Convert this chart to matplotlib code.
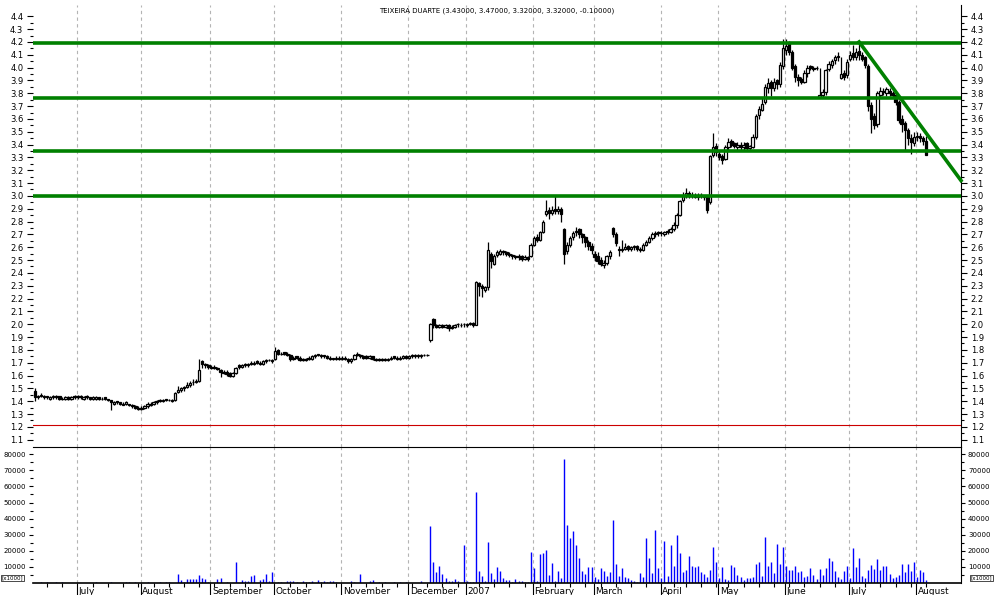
import matplotlib
matplotlib.use('Agg')
import matplotlib.pyplot as plt
import matplotlib.transforms as mtransforms
import numpy as np
import pandas as pd

title = 'TEIXEIRA DUARTE (3.43000, 3.47000, 3.32000, 3.32000, -0.10000)'

# trading days, Lisbon holidays removed
start_date = '2006-06-13'
end_date = '2007-08-06'
holidays = ['2006-12-25', '2006-12-26', '2007-01-01', '2007-04-06', '2007-04-09', '2007-05-01']

# daily OHLC, one line per month
opens = [
    1.48,1.43,1.45,1.44,1.44,1.42,1.43,1.44,1.44,1.42,1.42,1.43,1.42,1.44,
    1.43,1.44,1.42,1.44,1.43,1.42,1.42,1.43,1.42,1.43,1.42,1.41,1.38,1.40,1.39,1.37,1.38,1.38,1.37,1.36,1.34,
    1.34,1.35,1.36,1.37,1.38,1.39,1.41,1.40,1.42,1.41,1.40,1.41,1.47,1.49,1.51,1.51,1.53,1.55,1.55,1.56,1.71,1.69,1.68,
    1.67,1.67,1.66,1.64,1.63,1.63,1.62,1.60,1.62,1.68,1.67,1.69,1.68,1.70,1.69,1.71,1.70,1.69,1.71,1.72,1.71,
    1.73,1.80,1.77,1.78,1.77,1.76,1.73,1.75,1.74,1.73,1.72,1.74,1.73,1.75,1.77,1.76,1.76,1.75,1.74,1.74,1.73,1.74,
    1.73,1.74,1.73,1.71,1.73,1.77,1.76,1.75,1.75,1.74,1.75,1.73,1.72,1.73,1.72,1.72,1.73,1.75,1.74,1.73,1.74,1.75,
    1.74,1.76,1.75,1.76,1.75,1.76,1.76,1.88,2.04,1.99,1.98,1.99,1.98,1.99,1.97,1.98,2.00,1.99,2.00,
    1.99,2.00,2.01,1.99,2.32,2.30,2.27,2.29,2.55,2.47,2.54,2.55,2.57,2.56,2.55,2.54,2.53,2.52,2.53,2.51,2.52,2.53,
    2.62,2.68,2.66,2.72,2.86,2.89,2.87,2.90,2.88,2.90,2.74,2.57,2.62,2.68,2.72,2.74,2.70,2.68,2.64,2.61,
    2.55,2.53,2.50,2.46,2.48,2.53,2.75,2.70,2.59,2.58,2.59,2.61,2.59,2.60,2.61,2.59,2.58,2.62,2.64,2.67,2.70,2.72,
    2.71,2.70,2.73,2.72,2.74,2.77,2.85,2.97,3.00,3.02,3.00,3.01,2.99,3.01,3.00,2.99,2.95,3.32,3.39,
    3.33,3.31,3.29,3.38,3.43,3.41,3.38,3.40,3.38,3.41,3.37,3.38,3.46,3.63,3.67,3.73,3.84,3.89,3.84,3.90,3.87,4.01,
    4.14,4.19,4.12,4.01,3.93,3.91,3.89,3.96,4.01,4.00,4.00,3.77,3.79,3.81,3.99,4.02,4.06,4.08,3.92,3.96,3.94,
    4.07,4.11,4.08,4.13,4.10,4.08,4.01,3.71,3.62,3.56,3.79,3.82,3.80,3.82,3.80,3.79,3.73,3.60,3.57,3.51,3.45,3.41,
    3.46,3.47,3.45,3.43,
]
highs = [
    1.50,1.45,1.46,1.45,1.44,1.44,1.45,1.45,1.44,1.43,1.44,1.44,1.44,1.45,
    1.45,1.45,1.44,1.45,1.43,1.44,1.44,1.43,1.43,1.43,1.42,1.41,1.40,1.40,1.39,1.39,1.40,1.38,1.38,1.37,1.36,
    1.36,1.37,1.39,1.39,1.40,1.41,1.42,1.42,1.42,1.42,1.42,1.47,1.52,1.51,1.52,1.55,1.56,1.57,1.57,1.73,1.72,1.70,1.69,
    1.68,1.68,1.67,1.65,1.64,1.64,1.63,1.63,1.67,1.69,1.69,1.70,1.70,1.71,1.71,1.72,1.71,1.72,1.73,1.73,1.73,
    1.82,1.81,1.78,1.78,1.78,1.77,1.75,1.75,1.75,1.74,1.74,1.75,1.76,1.77,1.77,1.77,1.76,1.76,1.75,1.74,1.75,1.75,
    1.75,1.75,1.74,1.74,1.77,1.78,1.77,1.76,1.76,1.76,1.75,1.74,1.74,1.74,1.74,1.74,1.75,1.75,1.75,1.75,1.76,1.76,
    1.76,1.77,1.77,1.77,1.77,1.77,1.77,2.01,2.05,2.00,2.00,2.00,2.00,2.00,1.99,2.00,2.01,2.01,2.01,
    2.01,2.02,2.02,2.34,2.33,2.31,2.30,2.64,2.56,2.55,2.58,2.59,2.58,2.57,2.56,2.55,2.54,2.55,2.54,2.54,2.53,2.63,
    2.69,2.70,2.73,2.81,2.97,2.91,2.92,3.00,2.92,2.91,2.75,2.64,2.69,2.73,2.76,2.75,2.71,2.69,2.66,2.63,
    2.57,2.56,2.52,2.50,2.54,2.58,2.76,2.72,2.61,2.66,2.63,2.62,2.61,2.62,2.62,2.60,2.63,2.66,2.69,2.72,2.73,2.73,
    2.73,2.73,2.74,2.76,2.80,2.87,2.97,3.03,3.06,3.04,3.03,3.02,3.02,3.02,3.01,3.00,3.32,3.49,3.41,
    3.35,3.33,3.40,3.45,3.44,3.42,3.42,3.42,3.42,3.42,3.40,3.48,3.64,3.70,3.76,3.87,3.92,3.90,3.92,3.91,4.04,4.22,
    4.22,4.21,4.14,4.03,3.95,3.93,3.98,4.02,4.02,4.01,4.01,4.00,3.83,3.99,4.05,4.07,4.10,4.12,4.08,3.98,4.07,
    4.13,4.18,4.15,4.20,4.12,4.09,4.03,3.73,3.65,3.82,3.85,3.84,3.85,3.84,3.82,3.81,3.75,3.63,3.58,3.53,3.48,3.50,
    3.50,3.49,3.47,3.47,
]
lows = [
    1.40,1.42,1.43,1.42,1.42,1.41,1.42,1.42,1.41,1.41,1.41,1.41,1.41,1.42,
    1.42,1.42,1.41,1.42,1.41,1.41,1.41,1.41,1.41,1.41,1.40,1.33,1.37,1.38,1.37,1.37,1.37,1.36,1.35,1.34,1.33,
    1.33,1.34,1.35,1.36,1.37,1.38,1.39,1.39,1.40,1.40,1.39,1.40,1.46,1.47,1.48,1.50,1.51,1.53,1.54,1.55,1.66,1.66,1.65,
    1.65,1.65,1.64,1.59,1.61,1.60,1.59,1.59,1.61,1.65,1.66,1.67,1.67,1.68,1.68,1.69,1.68,1.68,1.70,1.71,1.70,
    1.72,1.76,1.76,1.76,1.75,1.71,1.72,1.73,1.71,1.71,1.71,1.72,1.72,1.74,1.75,1.74,1.74,1.73,1.72,1.72,1.72,1.72,
    1.72,1.72,1.70,1.70,1.72,1.75,1.74,1.73,1.73,1.73,1.72,1.71,1.71,1.71,1.71,1.71,1.72,1.73,1.72,1.72,1.73,1.73,
    1.73,1.74,1.74,1.74,1.74,1.75,1.75,1.86,1.97,1.97,1.97,1.97,1.97,1.95,1.96,1.97,1.98,1.98,1.98,
    1.98,1.99,1.98,1.99,2.22,2.21,2.25,2.27,2.44,2.46,2.52,2.54,2.54,2.53,2.52,2.51,2.51,2.50,2.49,2.50,2.49,2.52,
    2.61,2.64,2.65,2.71,2.84,2.82,2.85,2.86,2.86,2.80,2.47,2.55,2.60,2.66,2.69,2.67,2.63,2.60,2.58,2.55,
    2.49,2.47,2.45,2.44,2.46,2.51,2.68,2.61,2.53,2.56,2.58,2.57,2.57,2.58,2.57,2.56,2.57,2.61,2.63,2.66,2.68,2.69,
    2.69,2.69,2.70,2.71,2.73,2.75,2.84,2.95,2.98,2.98,2.98,2.98,2.97,2.98,2.97,2.87,2.94,3.30,3.31,
    3.28,3.25,3.28,3.36,3.38,3.37,3.36,3.36,3.36,3.35,3.35,3.37,3.44,3.60,3.66,3.72,3.80,3.78,3.82,3.83,3.85,3.99,
    4.10,4.10,3.98,3.89,3.86,3.87,3.88,3.93,3.98,3.97,3.98,3.76,3.77,3.79,3.97,4.00,4.03,4.05,3.91,3.90,3.92,
    4.05,4.06,4.06,4.06,4.05,4.00,3.66,3.49,3.52,3.54,3.77,3.79,3.78,3.78,3.77,3.71,3.57,3.50,3.35,3.40,3.33,3.39,
    3.43,3.42,3.40,3.32,
]
closes = [
    1.43,1.44,1.44,1.43,1.43,1.43,1.44,1.43,1.42,1.42,1.43,1.42,1.43,1.43,
    1.44,1.43,1.43,1.43,1.42,1.43,1.43,1.42,1.42,1.42,1.41,1.39,1.39,1.39,1.38,1.38,1.39,1.37,1.36,1.35,1.35,
    1.35,1.36,1.38,1.38,1.39,1.40,1.40,1.41,1.41,1.41,1.41,1.46,1.49,1.50,1.50,1.53,1.54,1.55,1.56,1.64,1.69,1.68,1.67,
    1.66,1.66,1.65,1.63,1.62,1.61,1.60,1.62,1.66,1.67,1.68,1.68,1.69,1.69,1.70,1.70,1.69,1.71,1.72,1.72,1.72,
    1.79,1.77,1.77,1.77,1.76,1.73,1.74,1.74,1.72,1.72,1.73,1.73,1.75,1.76,1.76,1.75,1.75,1.74,1.73,1.73,1.74,1.73,
    1.74,1.73,1.71,1.73,1.76,1.76,1.75,1.74,1.74,1.75,1.73,1.72,1.73,1.72,1.73,1.73,1.74,1.74,1.73,1.74,1.75,1.74,
    1.75,1.75,1.76,1.75,1.76,1.76,1.76,2.00,1.99,1.98,1.99,1.98,1.99,1.97,1.98,1.99,2.00,1.99,2.00,
    2.00,2.01,1.99,2.33,2.30,2.28,2.29,2.58,2.49,2.53,2.56,2.57,2.56,2.55,2.54,2.53,2.52,2.53,2.51,2.52,2.51,2.62,
    2.67,2.66,2.72,2.80,2.88,2.87,2.89,2.88,2.90,2.86,2.55,2.62,2.67,2.71,2.73,2.70,2.68,2.64,2.61,2.58,
    2.52,2.49,2.47,2.48,2.53,2.56,2.70,2.63,2.58,2.59,2.60,2.59,2.60,2.61,2.59,2.58,2.62,2.64,2.67,2.70,2.71,2.71,
    2.71,2.72,2.72,2.74,2.77,2.85,2.96,3.00,3.02,3.00,3.01,2.99,3.00,3.00,2.99,2.89,3.31,3.38,3.34,
    3.30,3.28,3.38,3.42,3.40,3.39,3.40,3.38,3.40,3.37,3.39,3.46,3.62,3.68,3.72,3.85,3.88,3.84,3.89,3.87,4.02,4.15,
    4.17,4.12,4.00,3.93,3.90,3.89,3.96,4.00,4.00,3.99,4.00,3.79,3.81,3.98,4.03,4.05,4.08,4.09,3.95,3.93,4.04,
    4.10,4.08,4.12,4.10,4.07,4.02,3.70,3.60,3.55,3.80,3.82,3.81,3.83,3.80,3.79,3.73,3.59,3.56,3.51,3.45,3.42,3.46,
    3.47,3.45,3.43,3.32,
]
# volume in thousands of shares
volume_k = [
    0,0,0.6,0,0.6,0,0,0.6,0,0.6,0,0,0,0,
    0,0,0,0,0,0,0.4,0,0,0,0,0.4,0,0,0,0,0.6,0.6,0,0.6,0,
    0,0,0.4,0,0,0,0.4,0,0.6,0.6,0,0,5.4,1.7,0.6,2.3,2.3,2.3,2.3,4.8,2.9,2.3,0.8,
    0,0,2.3,2.9,0,0.8,0,0,12.9,0,1.7,1.2,1.2,4.2,5.2,0,2.1,2.5,5.8,1.2,7.1,
    0,0.6,0.8,0,1.0,1.0,1.0,0.8,0,1.2,0.8,0.8,1.2,0,2.1,0.8,1.2,0.8,1.0,1.2,0.8,0,
    0,0,0,1.2,0.6,0,5.8,0,0,1.2,2.1,0,0.8,0,0.6,0,0,0.6,0,0.6,0,0.6,
    0,0,0,0,1.0,0,0,35.6,12.8,6.6,10.4,5.4,2.9,1.2,1.4,2.7,1.4,0,23.8,
    1.0,0.8,0.8,56.3,7.7,4.6,1.4,25.7,6.4,2.7,10.1,7.7,3.3,1.7,2.1,0.8,2.7,1.4,1.4,0.8,0.8,19.5,
    9.5,1.4,18.2,18.8,20.7,5.2,12.6,1.4,7.7,3.3,77.2,36.2,28.2,32.5,23.8,15.7,7.7,5.8,10.1,10.1,
    3.9,2.7,9.5,7.7,4.6,7.0,39.3,12.0,4.6,9.5,3.9,3.3,2.1,1.4,0.8,6.4,3.9,28.2,15.7,6.4,33.1,9.5,
    3.3,26.3,4.6,23.8,10.8,30.0,18.8,7.0,8.3,17.0,10.8,10.1,10.8,7.0,5.8,3.9,8.3,22.6,13.3,
    3.3,10.1,2.7,2.1,11.4,10.1,5.2,3.9,2.1,3.3,3.3,3.9,12.0,13.3,4.6,28.8,10.8,13.3,6.4,24.4,12.0,22.6,
    10.8,8.3,8.3,10.8,7.0,7.7,3.9,4.6,9.5,5.2,2.7,8.9,5.2,9.5,15.7,13.9,7.7,3.9,2.7,7.7,10.8,
    3.3,21.9,10.1,15.7,4.6,3.3,8.3,11.4,8.9,15.1,8.3,10.8,10.8,5.8,3.3,3.9,5.2,12.0,7.0,12.0,7.7,13.3,
    3.9,8.3,7.0,2.1,
]

month_labels = ['July', 'August', 'September', 'October', 'November', 'December', '2007',
                'February', 'March', 'April', 'May', 'June', 'July', 'August']

# drawn levels
support_levels = [4.19, 3.76, 3.35, 3.00]
red_level = 1.215
trend_start = '2007-07-05'
trend_prices = [4.20, 3.12]

dates = pd.bdate_range(start_date, end_date)
dates = dates[~dates.isin(pd.to_datetime(holidays))]
n = min(len(dates), len(closes))
dates = dates[:n]

idx = np.arange(n)
o = np.array(opens[:n]); h = np.array(highs[:n]); l = np.array(lows[:n]); c = np.array(closes[:n])
vol = np.array(volume_k[:n]) * 1000

fig = plt.figure(figsize=(9.94, 5.95), dpi=100)
ax = fig.add_axes([33/994, 1-447/595, 928/994, 442/595])
axv = fig.add_axes([33/994, 1-583/595, 928/994, 136/595])

step = 3.041
x0 = -2/step
x1 = x0 + 928/step
for a in (ax, axv):
    a.set_xlim(x0, x1)

# month separators
month_pos = [i for i in range(1, n) if dates[i].month != dates[i-1].month]
for a in (ax, axv):
    for p in month_pos:
        a.axvline(p - 0.3, color='#b4b4b4', ls=(0, (3, 3)), lw=0.8, zorder=0)

# candles
ax.vlines(idx, l, h, color='black', lw=0.9, zorder=2)
up = c >= o
ax.bar(idx, c - o, bottom=o, width=0.8, color=np.where(up, 'white', 'black'),
       edgecolor='black', linewidth=0.9, zorder=3)

for lvl in support_levels:
    ax.axhline(lvl, color='#008000', lw=2.6, zorder=4)
ts = int(np.searchsorted(dates, pd.Timestamp(trend_start)))
ax.plot([ts, x1], trend_prices, color='#008000', lw=2.6, zorder=4, clip_on=False)
ax.axhline(red_level, color='#cc0000', lw=0.8, zorder=4)

ax.set_ylim(1.043, 4.488)
ax.set_yticks(np.arange(1.1, 4.41, 0.1))
ax.set_yticks(np.arange(1.15, 4.45, 0.1), minor=True)
ax.yaxis.set_major_formatter(plt.FuncFormatter(lambda v, p: f'{v:.1f}'))
ax.tick_params(axis='y', which='both', left=True, right=True, labelleft=True, labelright=True,
               direction='out', labelsize=6, pad=3, width=0.8)
ax.tick_params(axis='y', which='major', length=4)
ax.tick_params(axis='y', which='minor', length=2)
ax.set_xticks([])
for s in ('top', 'left', 'bottom'):
    ax.spines[s].set_visible(False)
ax.spines['right'].set_linewidth(0.8)

ax.text(0.5, 0.995, title, transform=ax.transAxes, ha='center', va='top', fontsize=5)

# volume
axv.vlines(idx, 0, vol, color='#0000ff', lw=1.0)
axv.set_ylim(0, 84500)
axv.set_yticks(np.arange(10000, 80001, 10000))
axv.set_yticks(np.arange(5000, 80001, 10000), minor=True)
axv.yaxis.set_major_formatter(plt.FuncFormatter(lambda v, p: f'{int(v)}'))
axv.tick_params(axis='y', which='both', left=True, right=True, labelleft=True, labelright=True,
                direction='out', labelsize=5, pad=2, width=0.8)
axv.tick_params(axis='y', which='major', length=3)
axv.tick_params(axis='y', which='minor', length=2)
axv.spines['left'].set_visible(False)
for s in ('top', 'right', 'bottom'):
    axv.spines[s].set_linewidth(0.8)
axv.spines['bottom'].set_linewidth(1.2)

week_pos = [i for i in range(1, n) if dates[i].weekday() < dates[i-1].weekday()]
axv.set_xticks([p - 0.3 for p in month_pos])
axv.set_xticklabels([])
axv.set_xticks([p for p in week_pos if p not in month_pos], minor=True)
axv.tick_params(axis='x', which='major', length=9, width=0.8, direction='out')
axv.tick_params(axis='x', which='minor', length=3, width=0.8, direction='out')

trans = mtransforms.blended_transform_factory(axv.transData, axv.transAxes)
for p, lab in zip(month_pos, month_labels):
    axv.text(p + 0.2, -0.06, lab, transform=trans, ha='left', va='center', fontsize=6.5)

for xf, ha in ((2/994, 'left'), (992/994, 'right')):
    fig.text(xf, 1-578/595, '[x1000]', ha=ha, va='center', fontsize=4,
             bbox=dict(boxstyle='square,pad=0.1', fc='white', ec='black', lw=0.5))

fig.savefig('out.png', dpi=100)
